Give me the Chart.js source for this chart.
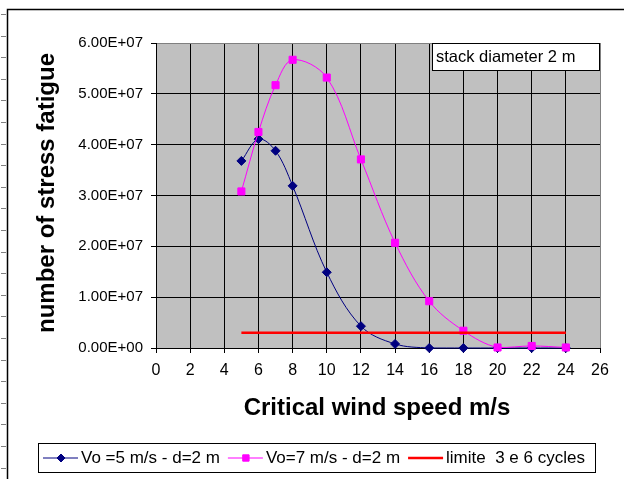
<!DOCTYPE html>
<html>
<head>
<meta charset="utf-8">
<script src="https://cdn.jsdelivr.net/npm/chart.js@4.4.0/dist/chart.umd.min.js"></script>
<style>
  html, body { margin: 0; padding: 0; background: #fff; }
  canvas { display: block; }
</style>
</head>
<body>
<canvas id="chart" width="624" height="479"></canvas>
<script>
// wind speeds (m/s) and number of fatigue cycles for each Vo
const windSpeeds = [5, 6, 7, 8, 10, 12, 14, 16, 18, 20, 22, 24];
const cyclesVo5 = [3.68e7, 4.11e7, 3.88e7, 3.19e7, 1.49e7, 0.43e7, 0.08e7, 0, 0, 0, 0, 0];
const cyclesVo7 = [3.08e7, 4.25e7, 5.17e7, 5.67e7, 5.32e7, 3.71e7, 2.07e7, 0.92e7, 0.34e7, 0.01e7, 0.04e7, 0.01e7];
const limitSpeeds = [5, 24];
const limitCycles = [3e6, 3e6];
const seriesNames = ["Vo =5 m/s - d=2 m", "Vo=7 m/s - d=2 m", "limite  3 e 6 cycles"];

const FONT = "'Liberation Sans', Arial, sans-serif";

// 6.00E+07 style labels
function sci(v) {
  const parts = Number(v).toExponential(2).split("e");
  const e = parseInt(parts[1], 10);
  return parts[0] + "E" + (e < 0 ? "-" : "+") + String(Math.abs(e)).padStart(2, "0");
}

function points(xs, ys) {
  return xs.map((x, i) => ({ x: x, y: ys[i] }));
}

// grey plot area
const plotBackground = {
  id: "plotBackground",
  beforeDraw(chart) {
    const { ctx, chartArea: a } = chart;
    ctx.save();
    ctx.fillStyle = "#c0c0c0";
    ctx.fillRect(a.left, a.top, a.right - a.left, a.bottom - a.top);
    ctx.restore();
  }
};

// sheet frame, axis titles, note box and boxed legend
const decorations = {
  id: "decorations",
  afterDraw(chart) {
    const { ctx, chartArea: a } = chart;
    ctx.save();

    // frame of the sheet
    ctx.strokeStyle = "#808080";
    ctx.lineWidth = 1;
    for (let y = 14; y < chart.height; y += 21.6) {
      ctx.beginPath();
      ctx.moveTo(1, Math.round(y) + 0.5);
      ctx.lineTo(6, Math.round(y) + 0.5);
      ctx.stroke();
    }
    ctx.strokeStyle = "#000";
    ctx.lineWidth = 1.5;
    ctx.beginPath();
    ctx.moveTo(chart.width, 9.5);
    ctx.lineTo(7.5, 9.5);
    ctx.lineTo(7.5, chart.height);
    ctx.stroke();

    // axis titles
    ctx.fillStyle = "#000";
    ctx.font = "bold 24px " + FONT;
    ctx.textAlign = "center";
    ctx.textBaseline = "middle";
    ctx.fillText("Critical wind speed m/s", 377, 408);
    ctx.save();
    ctx.translate(47, 193);
    ctx.rotate(-Math.PI / 2);
    ctx.fillText("number of stress fatigue", 0, 0);
    ctx.restore();

    // note in the top right corner
    ctx.fillStyle = "#fff";
    ctx.fillRect(432, a.top, a.right - 432, 27);
    ctx.strokeStyle = "#000";
    ctx.lineWidth = 1;
    ctx.strokeRect(432.5, a.top + 0.5, a.right - 433, 27);
    ctx.fillStyle = "#000";
    ctx.font = "16.5px " + FONT;
    ctx.textAlign = "left";
    ctx.fillText("stack diameter 2 m", 436, a.top + 14);

    // legend
    ctx.fillStyle = "#fff";
    ctx.fillRect(38, 443, 557, 29);
    ctx.strokeRect(38.5, 443.5, 557, 29);
    ctx.font = "17px " + FONT;
    let x = 43;
    const ly = 458;
    chart.data.datasets.forEach((ds) => {
      ctx.strokeStyle = ds.borderColor;
      ctx.lineWidth = ds.borderWidth;
      ctx.beginPath();
      ctx.moveTo(x, ly);
      ctx.lineTo(x + 35, ly);
      ctx.stroke();
      if (ds.pointRadius > 0) {
        ctx.fillStyle = ds.pointBackgroundColor;
        ctx.strokeStyle = ds.pointBorderColor;
        ctx.lineWidth = 1;
        Chart.helpers.drawPoint(ctx, {
          pointStyle: ds.pointStyle,
          radius: ds.pointRadius - 0.5,
          rotation: 0,
          borderWidth: 1
        }, x + 18, ly);
      }
      ctx.fillStyle = "#000";
      ctx.fillText(ds.label, x + 38, ly);
      x += 38 + ctx.measureText(ds.label).width + 8;
    });

    ctx.restore();
  }
};

new Chart(document.getElementById("chart"), {
  type: "line",
  data: {
    datasets: [
      {
        label: seriesNames[0],
        data: points(windSpeeds, cyclesVo5),
        borderColor: "#000080",
        borderWidth: 1,
        pointStyle: "rectRot",
        pointRadius: 4.5,
        pointBackgroundColor: "#000080",
        pointBorderColor: "#000080",
        tension: 0.35,
        clip: 8,
        order: 2
      },
      {
        label: seriesNames[1],
        data: points(windSpeeds, cyclesVo7),
        borderColor: "#ff00ff",
        borderWidth: 1,
        pointStyle: "rect",
        pointRadius: 5,
        pointBackgroundColor: "#ff00ff",
        pointBorderColor: "#ff00ff",
        tension: 0.35,
        clip: 8,
        order: 1
      },
      {
        label: seriesNames[2],
        data: points(limitSpeeds, limitCycles),
        borderColor: "#ff0000",
        borderWidth: 2.5,
        pointRadius: 0,
        tension: 0,
        clip: 8,
        order: 0
      }
    ]
  },
  options: {
    responsive: false,
    animation: false,
    layout: { padding: { top: 43, right: 24, left: 0, bottom: 0 } },
    plugins: {
      legend: { display: false },
      tooltip: { enabled: false }
    },
    scales: {
      x: {
        type: "linear",
        min: 0,
        max: 26,
        ticks: {
          stepSize: 2,
          color: "#000",
          font: { family: FONT, size: 16 },
          padding: 8,
          maxRotation: 0
        },
        grid: {
          color: (c) => (c.tick && c.tick.value === 26 ? "#808080" : "#000"),
          tickColor: "#000",
          tickLength: 5
        },
        border: { color: "#000" },
        afterFit: (s) => { s.height = 131; }
      },
      y: {
        type: "linear",
        min: 0,
        max: 6e7,
        ticks: {
          stepSize: 1e7,
          color: "#000",
          font: { family: FONT, size: 15 },
          padding: 8,
          callback: sci
        },
        grid: {
          color: (c) => (c.tick && c.tick.value === 6e7 ? "#808080" : "#000"),
          tickColor: "#000",
          tickLength: 5
        },
        border: { color: "#000" },
        afterFit: (s) => { s.width = 156; }
      }
    }
  },
  plugins: [plotBackground, decorations]
});
</script>
</body>
</html>
